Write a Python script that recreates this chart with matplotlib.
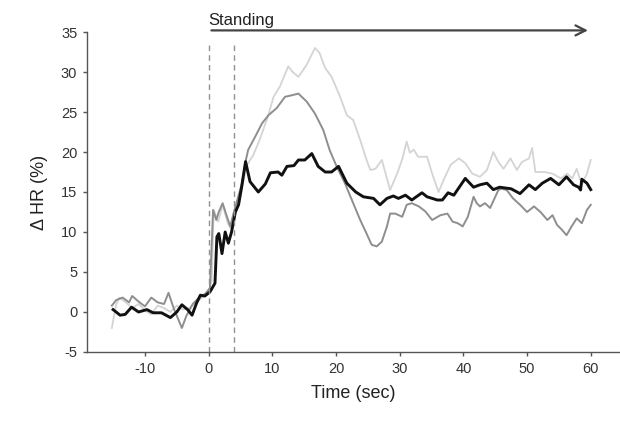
import matplotlib
matplotlib.use("Agg")
import matplotlib.pyplot as plt

plt.rcParams['font.family'] = ['Liberation Sans', 'DejaVu Sans']
plt.rcParams['axes.unicode_minus'] = False

# black (thick) trace
t_black = [-15, -13.9, -13.1, -12.1, -11.0, -9.7, -8.7, -7.4, -6.0, -5.0, -4.2, -3.3, -2.6, -1.9, -1.3,
           -0.6, 0.2, 1.0, 1.3, 1.6, 2.1, 2.6, 3.1, 3.6, 4.2, 4.7, 5.2, 5.8, 6.5, 7.8, 8.9, 9.7, 10.9,
           11.5, 12.3, 13.4, 14.1, 15.1, 16.2, 17.2, 18.3, 19.3, 20.4, 21.7, 23.1, 24.3, 25.9, 26.9,
           28.0, 29.0, 29.8, 30.9, 31.9, 33.5, 34.3, 35.9, 36.7, 37.6, 38.5, 40.3, 41.6, 42.6, 43.7,
           44.7, 45.7, 47.5, 48.9, 50.3, 51.3, 52.4, 53.7, 55.0, 56.2, 57.3, 58.1, 58.4, 58.6, 59.4, 60.0]
hr_black = [0.3, -0.4, -0.3, 0.6, 0.0, 0.3, -0.1, -0.1, -0.7, 0.0, 0.9, 0.3, -0.4, 1.1, 2.1,
            2.0, 2.5, 3.6, 9.4, 9.8, 7.3, 10.0, 8.6, 10.0, 12.5, 13.4, 15.7, 18.8, 16.3, 15.0, 16.0, 17.4, 17.5,
            17.1, 18.2, 18.3, 19.0, 19.0, 19.8, 18.2, 17.5, 17.5, 18.2, 16.1, 15.0, 14.4, 14.2, 13.4,
            14.2, 14.5, 14.2, 14.6, 14.0, 14.9, 14.4, 14.0, 14.0, 14.9, 14.6, 16.7, 15.6, 15.9, 16.1,
            15.3, 15.6, 15.4, 14.8, 15.9, 15.3, 16.1, 16.7, 15.9, 16.9, 15.9, 15.6, 15.25, 16.6, 16.1, 15.3]

# medium grey trace
t_mid = [-15.2, -14.5, -13.5, -12.5, -12.0, -11.0, -10.0, -9.0, -8.0, -7.0, -6.3, -5.5, -4.2, -3.5, -2.5,
         -1.5, -0.5, 0.2, 0.7, 1.2, 1.6, 2.2, 2.8, 3.4, 3.9, 4.5, 5.2, 5.8, 6.2, 7.3, 8.4, 9.4, 10.7,
         12.0, 13.1, 14.1, 15.4, 16.7, 18.0, 19.0, 20.1, 21.4, 22.7, 23.8, 24.8, 25.6, 26.4, 27.2,
         28.0, 28.5, 29.3, 30.4, 31.1, 31.9, 33.0, 34.0, 35.1, 36.4, 37.5, 38.3, 39.1, 39.9, 40.7,
         41.6, 42.1, 42.6, 43.4, 44.2, 45.5, 46.0, 46.8, 47.8, 48.9, 50.0, 51.1, 52.1, 53.2, 54.0,
         54.7, 55.5, 56.2, 57.0, 57.8, 58.6, 59.4, 60.0]
hr_mid = [0.8, 1.5, 1.8, 1.2, 2.0, 1.3, 0.7, 1.8, 1.2, 1.0, 2.4, 0.5, -2.0, -0.5, 1.0,
          1.8, 2.3, 3.0, 12.75, 11.5, 12.5, 13.6, 12.1, 10.7, 12.3, 14.0, 16.0, 18.8, 20.25, 21.9, 23.6, 24.6, 25.5,
          26.9, 27.1, 27.3, 26.3, 24.8, 22.75, 20.25, 18.2, 16.1, 13.6, 11.5, 9.8, 8.4, 8.2, 8.8,
          10.7, 12.3, 12.3, 11.9, 13.4, 13.6, 13.2, 12.6, 11.5, 12.1, 12.3, 11.3, 11.1, 10.7, 11.9,
          14.4, 13.6, 13.2, 13.6, 13.0, 15.25, 15.4, 15.25, 14.2, 13.4, 12.5, 13.2, 12.5, 11.5, 12.1,
          10.9, 10.25, 9.6, 10.7, 11.7, 11.1, 12.75, 13.4]

# light grey trace
t_light = [-15.2, -14.5, -14.0, -13.0, -12.0, -11.0, -10.0, -9.0, -8.0, -7.0, -6.0, -5.0, -4.0, -3.0, -2.0,
           -1.0, 0.0, 0.5, 0.8, 1.5, 2.2, 3.0, 3.5, 4.2, 5.0, 5.9, 7.0, 8.0, 9.3, 10.2, 11.2, 12.5,
           13.2, 14.1, 15.4, 16.7, 17.4, 18.3, 19.3, 20.6, 21.7, 22.7, 23.8, 24.8, 25.4, 26.2, 27.2,
           28.5, 29.6, 30.4, 31.1, 31.6, 32.2, 32.9, 34.3, 35.1, 36.1, 36.9, 38.0, 39.3, 40.3, 41.4,
           42.6, 43.7, 44.7, 45.5, 46.3, 47.4, 48.4, 49.2, 50.3, 50.8, 51.3, 52.7, 54.0, 55.3, 56.3,
           57.1, 57.8, 58.6, 59.4, 60.0]
hr_light = [-2.0, 1.0, 1.8, 1.2, 0.5, 1.0, 0.2, -0.3, 0.8, 0.5, 0.0, 0.8, 0.3, 0.5, 1.2,
            1.8, 2.4, 4.0, 12.75, 11.3, 13.4, 11.1, 10.4, 12.5, 14.5, 18.2, 19.6, 21.5, 24.4, 26.9, 28.2, 30.7,
            30.0, 29.4, 30.9, 33.0, 32.4, 30.5, 29.4, 27.0, 24.6, 24.0, 21.5, 19.0, 17.75, 17.9, 19.0,
            15.25, 17.3, 19.1, 21.3, 19.9, 20.3, 19.4, 19.4, 17.3, 15.0, 16.5, 18.4, 19.2, 18.6, 17.3,
            16.9, 17.75, 20.0, 18.75, 17.9, 19.2, 17.75, 18.75, 19.2, 20.5, 17.5, 17.5, 17.3, 16.7, 17.3,
            16.7, 17.9, 15.9, 17.3, 19.0]

x_ticks = [-10, 0, 10, 20, 30, 40, 50, 60]
y_ticks = [-5, 0, 5, 10, 15, 20, 25, 30, 35]
stand_marks = [0, 4]

fig = plt.figure(figsize=(6.2, 4.29), dpi=100)
ax = fig.add_axes([0.1403, 0.1795, 0.8577, 0.7459])

ax.plot(t_light, hr_light, color='#d4d4d4', lw=1.3)
ax.plot(t_mid, hr_mid, color='#8e8e8e', lw=1.4)
ax.plot(t_black, hr_black, color='#111111', lw=2.1)

for xm in stand_marks:
    ax.plot([xm, xm], [-5, 33.4], color='#909090', lw=1.0, dashes=(4, 3), clip_on=False)

ax.annotate('', xy=(60, 35.2), xytext=(0, 35.2), xycoords='data',
            arrowprops=dict(arrowstyle='->', color='#444444', lw=1.6, mutation_scale=18),
            annotation_clip=False)
ax.text(0, 35.45, 'Standing', fontsize=12, color='#222222', ha='left', va='bottom')

ax.set_xlim(-19.1, 64.4)
ax.set_ylim(-5, 35)
ax.set_xticks(x_ticks)
ax.set_yticks(y_ticks)
for s in ['top', 'right']:
    ax.spines[s].set_visible(False)
for s in ['left', 'bottom']:
    ax.spines[s].set_color('#555555')
    ax.spines[s].set_linewidth(1.0)
ax.tick_params(direction='out', length=3, width=1, color='#555555', labelcolor='#333333',
               labelsize=10.5, pad=4)

ax.set_xlabel('Time (sec)', fontsize=13, color='#222222', labelpad=7)
ax.set_ylabel('Δ HR (%)', fontsize=13, color='#222222', labelpad=9)

fig.savefig('out.png', dpi=100)
